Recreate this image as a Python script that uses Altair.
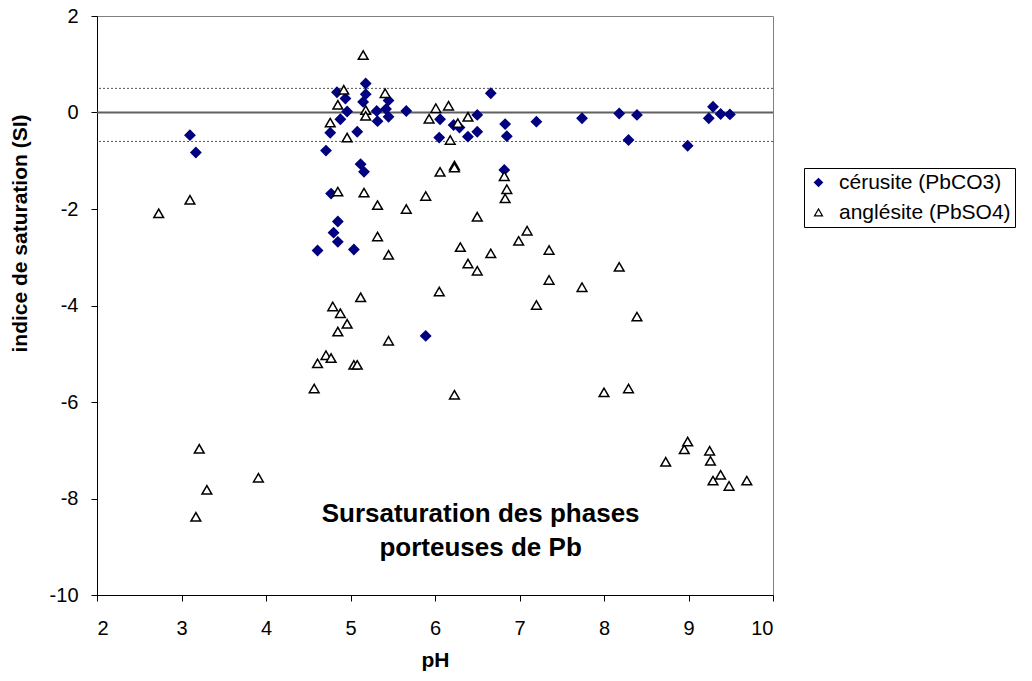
import altair as alt
import pandas as pd

# ---- data ----
ceru_ph = [3.10, 3.17, 4.61, 4.71, 4.76, 4.77, 4.80, 4.84, 4.85, 4.85, 4.88, 4.94,
           4.96, 5.04, 5.08, 5.12, 5.15, 5.16, 5.18, 5.18, 5.31, 5.32, 5.42, 5.45,
           5.45, 5.66, 5.89, 6.05, 6.06, 6.22, 6.29, 6.39, 6.50, 6.50, 6.66, 6.82,
           6.83, 6.85, 7.20, 7.74, 8.18, 8.29, 8.39, 8.99, 9.24, 9.29, 9.38, 9.49]
ceru_si = [-0.47, -0.83, -2.86, -0.79, -0.42, -1.68, -2.49, 0.42, -2.26, -2.68, -0.14, 0.29,
           0.02, -2.84, -0.40, -1.07, 0.22, -1.23, 0.60, 0.38, 0.03, -0.18, 0.07, 0.25,
           -0.09, 0.03, -4.63, -0.52, -0.14, -0.26, -0.31, -0.50, -0.05, -0.40, 0.40, -1.19,
           -0.24, -0.49, -0.19, -0.12, -0.02, -0.57, -0.05, -0.69, -0.12, 0.12, -0.03, -0.04]

angl_ph = [2.73, 3.10, 3.17, 3.21, 3.30, 3.91, 4.57, 4.61, 4.71, 4.76, 4.77, 4.79,
           4.85, 4.85, 4.85, 4.88, 4.92, 4.96, 4.96, 5.04, 5.08, 5.12, 5.15, 5.16,
           5.18, 5.18, 5.32, 5.32, 5.41, 5.45, 5.45, 5.66, 5.89, 5.93, 6.01, 6.05,
           6.06, 6.16, 6.18, 6.23, 6.23, 6.23, 6.27, 6.30, 6.39, 6.39, 6.50, 6.50,
           6.66, 6.82, 6.83, 6.85, 6.99, 7.09, 7.20, 7.35, 7.35, 7.74, 8.00, 8.18,
           8.29, 8.39, 8.73, 8.95, 8.99, 9.25, 9.26, 9.29, 9.38, 9.48, 9.69]
angl_si = [-2.09, -1.81, -8.38, -6.97, -7.82, -7.57, -5.72, -5.20, -5.03, -0.21, -5.09, -4.02,
           0.16, -1.64, -4.54, -4.16, 0.47, -0.52, -4.38, -5.23, -5.23, -3.83, 1.19, -1.66,
           0.05, -0.07, -1.92, -2.57, 0.40, -2.95, -4.73, -2.00, -1.73, -0.13, 0.09, -3.71,
           -1.23, 0.14, -0.57, -1.10, -1.14, -5.85, -0.22, -2.79, -0.09, -3.13, -2.16, -3.28,
           -2.92, -1.32, -1.78, -1.59, -2.66, -2.45, -3.99, -2.85, -3.47, -3.62, -5.80, -3.20,
           -5.72, -4.23, -7.24, -6.98, -6.82, -7.01, -7.22, -7.63, -7.51, -7.74, -7.63]

series_names = ["cérusite (PbCO3)", "anglésite (PbSO4)"]
dotted_levels = [0.5, -0.6]
zero_level = [0.0]
x_ticks = [2, 3, 4, 5, 6, 7, 8, 9, 10]
y_ticks = [-10, -8, -6, -4, -2, 0, 2]

note_lines = ["Sursaturation des phases", "porteuses de Pb"]
note_ph = [6.54, 6.54]
note_si = [-8.49, -9.19]

FONT = "Liberation Sans"

df = pd.DataFrame({
    "pH": ceru_ph + angl_ph,
    "SI": ceru_si + angl_si,
    "serie": [series_names[0]] * len(ceru_ph) + [series_names[1]] * len(angl_ph),
})
dotted_df = pd.DataFrame({"SI": dotted_levels})
zero_df = pd.DataFrame({"SI": zero_level})
note_df = pd.DataFrame({"pH": note_ph, "SI": note_si, "txt": note_lines})

x_enc = alt.X("pH:Q", title="pH",
              scale=alt.Scale(domain=[2, 10], nice=False, zero=False),
              axis=alt.Axis(values=x_ticks, tickSize=6, labelPadding=17,
                            titleY=65, titleBaseline="middle",
                            labelExpr="'' + datum.value"))
y_enc = alt.Y("SI:Q", title="indice de saturation (SI)",
              scale=alt.Scale(domain=[-10, 2], nice=False, zero=False),
              axis=alt.Axis(values=y_ticks, tickSize=6, labelPadding=13,
                            titleX=-77, titleY=217, titleAngle=270,
                            titleAlign="center", titleBaseline="middle",
                            labelExpr="'' + datum.value"))

zero_rule = alt.Chart(zero_df).mark_rule(color="#606060", strokeWidth=2).encode(y=y_enc)
dot_rule = alt.Chart(dotted_df).mark_rule(color="#555555", strokeWidth=1,
                                          strokeDash=[2, 2]).encode(y=y_enc)

points = alt.Chart(df).mark_point(size=95, strokeWidth=1.5, opacity=1).encode(
    x=x_enc,
    y=y_enc,
    shape=alt.Shape("serie:N", scale=alt.Scale(domain=series_names,
                                               range=["diamond", "triangle-up"]), title=None),
    fill=alt.Fill("serie:N", scale=alt.Scale(domain=series_names,
                                             range=["#000080", "#ffffff"]), title=None),
    stroke=alt.Stroke("serie:N", scale=alt.Scale(domain=series_names,
                                                 range=["#000080", "#000000"]), title=None),
    order=alt.Order("idx:Q"),
).transform_window(idx="row_number()")

note = alt.Chart(note_df).mark_text(font=FONT, fontSize=26, fontWeight="bold",
                                     align="center", baseline="alphabetic",
                                     color="black").encode(
    x=x_enc, y=y_enc, text="txt:N")

chart = alt.layer(zero_rule, dot_rule, points, note).properties(
    width=676, height=579,
    padding={"left": 89, "top": 8, "right": 251, "bottom": 78},
    autosize=alt.AutoSizeParams(type="none"),
).configure_view(
    stroke="#808080", strokeWidth=1
).configure_axis(
    grid=False, domainColor="black", tickColor="black",
    labelFont=FONT, labelFontSize=20, labelColor="black",
    titleFont=FONT, titleFontSize=21, titleFontWeight="bold", titleColor="black",
).configure_legend(
    orient="none", legendX=707, legendY=152,
    strokeColor="black", padding=4, fillColor="white",
    labelFont=FONT, labelFontSize=21, labelColor="black", labelLimit=400,
    labelOffset=10, symbolSize=64, symbolStrokeWidth=1.2, rowPadding=8,
)

chart.save("out.html", embed_options={"renderer": "svg", "actions": False})
